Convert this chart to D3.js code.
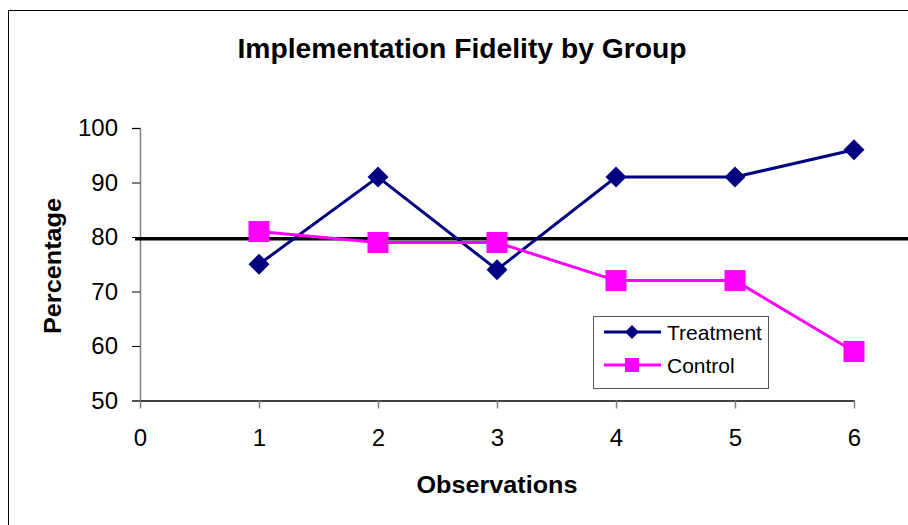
<!DOCTYPE html>
<html>
<head>
<meta charset="utf-8">
<script src="https://cdn.jsdelivr.net/npm/d3@7"></script>
<style>
  body { margin: 0; background: #fff; }
  svg { display: block; font-family: "Liberation Sans", Arial, sans-serif; }
</style>
</head>
<body>
<div id="chart"></div>
<script>
// data
var observations = [1, 2, 3, 4, 5, 6];
var treatment = [75, 91, 74, 91, 91, 96];
var control = [81, 79, 79, 72, 72, 59];
var benchmark = 79.7;
var xTicks = [0, 1, 2, 3, 4, 5, 6];
var yTicks = [50, 60, 70, 80, 90, 100];
var seriesNames = ["Treatment", "Control"];

var width = 908, height = 525;

var svg = d3.select("#chart").append("svg")
  .attr("width", width)
  .attr("height", height);

// outer chart border (right and bottom fall outside the picture)
svg.append("rect")
  .attr("x", 8.5).attr("y", 10.5)
  .attr("width", 1000).attr("height", 1000)
  .attr("fill", "none")
  .attr("stroke", "#000")
  .attr("stroke-width", 1);

var x = d3.scaleLinear().domain([0, 6]).range([140, 854]);
var y = d3.scaleLinear().domain([50, 100]).range([400.5, 128]);

// title
svg.append("text")
  .attr("x", 462).attr("y", 58)
  .attr("text-anchor", "middle")
  .attr("font-size", 28)
  .attr("font-weight", "bold")
  .attr("textLength", 449)
  .attr("lengthAdjust", "spacingAndGlyphs")
  .text("Implementation Fidelity by Group");

// y axis
var yAxis = svg.append("g")
  .attr("transform", "translate(140,0)")
  .call(d3.axisLeft(y).tickValues(yTicks).tickFormat(d3.format("d")).tickSize(8).tickPadding(14));
yAxis.select(".domain").attr("stroke", "#808080").attr("stroke-width", 1.5);
yAxis.selectAll(".tick line").attr("stroke", "#000");
yAxis.selectAll("text")
  .attr("font-size", 24)
  .attr("fill", "#000")
  .attr("font-family", "Liberation Sans, Arial, sans-serif");

// x axis
var xAxis = svg.append("g")
  .attr("transform", "translate(0,400.5)")
  .call(d3.axisBottom(x).tickValues(xTicks).tickFormat(d3.format("d")).tickSize(8).tickSizeOuter(0).tickPadding(20));
xAxis.select(".domain").attr("stroke", "#000").attr("stroke-width", 1.5);
xAxis.selectAll(".tick line").attr("stroke", "#808080").attr("stroke-width", 1.5);
xAxis.selectAll("text")
  .attr("font-size", 24)
  .attr("fill", "#000")
  .attr("font-family", "Liberation Sans, Arial, sans-serif");

// axis titles
svg.append("text")
  .attr("x", 497).attr("y", 493)
  .attr("text-anchor", "middle")
  .attr("font-size", 24)
  .attr("font-weight", "bold")
  .attr("textLength", 161)
  .attr("lengthAdjust", "spacingAndGlyphs")
  .text("Observations");

svg.append("text")
  .attr("transform", "translate(61,266) rotate(-90)")
  .attr("text-anchor", "middle")
  .attr("font-size", 24)
  .attr("font-weight", "bold")
  .attr("textLength", 136)
  .attr("lengthAdjust", "spacingAndGlyphs")
  .text("Percentage");

// benchmark line, runs past the plot to the edge
svg.append("line")
  .attr("x1", 135).attr("x2", width)
  .attr("y1", y(benchmark)).attr("y2", y(benchmark))
  .attr("stroke", "#000")
  .attr("stroke-width", 3.5);

var line = d3.line()
  .x(function (d) { return x(d[0]); })
  .y(function (d) { return y(d[1]); });

var treatData = d3.zip(observations, treatment);
var ctrlData = d3.zip(observations, control);

function diamond(r) {
  return "M0," + (-r) + "L" + r + ",0L0," + r + "L" + (-r) + ",0Z";
}

svg.append("path")
  .datum(treatData)
  .attr("d", line)
  .attr("fill", "none")
  .attr("stroke", "#000080")
  .attr("stroke-width", 3);

svg.append("path")
  .datum(ctrlData)
  .attr("d", line)
  .attr("fill", "none")
  .attr("stroke", "#FF00FF")
  .attr("stroke-width", 3);

svg.selectAll(".ctrl")
  .data(ctrlData)
  .join("rect")
  .attr("class", "ctrl")
  .attr("x", function (d) { return x(d[0]) - 10.5; })
  .attr("y", function (d) { return y(d[1]) - 10.5; })
  .attr("width", 21).attr("height", 21)
  .attr("fill", "#FF00FF");

svg.selectAll(".treat")
  .data(treatData)
  .join("path")
  .attr("class", "treat")
  .attr("transform", function (d) { return "translate(" + x(d[0]) + "," + y(d[1]) + ")"; })
  .attr("d", diamond(10.5))
  .attr("fill", "#000080");

// legend
var legend = svg.append("g");
legend.append("rect")
  .attr("x", 593.5).attr("y", 316.5)
  .attr("width", 175).attr("height", 72)
  .attr("fill", "#fff")
  .attr("stroke", "#555")
  .attr("stroke-width", 1);

var legColors = ["#000080", "#FF00FF"];
seriesNames.forEach(function (name, i) {
  var ly = 332 + i * 33;
  legend.append("line")
    .attr("x1", 604).attr("x2", 661)
    .attr("y1", ly).attr("y2", ly)
    .attr("stroke", legColors[i])
    .attr("stroke-width", 3);
  if (i === 0) {
    legend.append("path")
      .attr("transform", "translate(632," + ly + ")")
      .attr("d", diamond(7))
      .attr("fill", legColors[i]);
  } else {
    legend.append("rect")
      .attr("x", 625).attr("y", ly - 7)
      .attr("width", 14).attr("height", 14)
      .attr("fill", legColors[i]);
  }
  legend.append("text")
    .attr("x", 667).attr("y", ly + 8)
    .attr("font-size", 21)
    .attr("fill", "#000")
    .text(name);
});
</script>
</body>
</html>
